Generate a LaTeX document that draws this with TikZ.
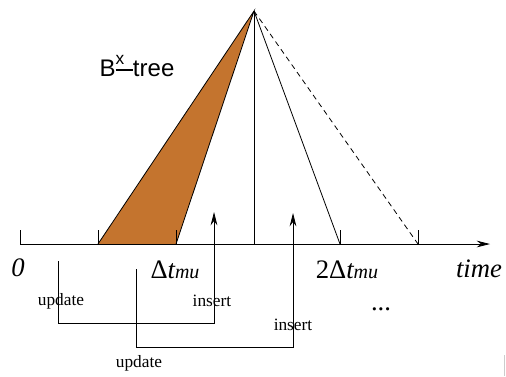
\documentclass[tikz,border=0pt]{standalone}
\usepackage{fontspec}
\setmainfont{Liberation Serif}
\newfontfamily\treefont{Liberation Sans}
\usetikzlibrary{arrows.meta}
\usepackage{xcolor}
\definecolor{treefill}{RGB}{196,116,46}
\newcommand\dtmu{\textup{Δ}\textit{t}{\fontsize{15}{15}\selectfont\itshape mu}}

\begin{document}
\begin{tikzpicture}[x=0.75pt, y=-0.75pt,
    edge/.style={line width=0.6pt},
    axis/.style={-{Stealth[length=10pt,width=5pt]}, line width=0.6pt},
    flow/.style={-{Stealth[length=10pt,width=5pt]}, line width=0.6pt},
    big/.style={font=\fontsize{20}{24}\selectfont\itshape, inner sep=0pt},
    small/.style={font=\fontsize{13}{15}\selectfont, inner sep=0pt},
    treelabel/.style={font=\treefont\fontsize{18}{22}\selectfont, inner sep=0pt}
  ]
  \useasboundingbox (0,0) rectangle (506,376);
  \coordinate (apex) at (254,11);
  \coordinate (t0) at (20,244);
  \coordinate (t1) at (98,244);
  \coordinate (t2) at (176,244);
  \coordinate (t3) at (254,244);
  \coordinate (t4) at (340,244);
  \coordinate (t5) at (418,244);
  \coordinate (tend) at (490,244);

  % the tree
  \fill[treefill] (t1) -- (apex) -- (t2) -- cycle;
  \draw[edge] (t1) -- (apex) -- (t2);
  \draw[edge] (apex) -- (t3);
  \draw[edge] (apex) -- (t4);
  \draw[edge, dash pattern=on 4pt off 3pt] (apex) -- (t5);

  % time axis
  \draw[axis] (t0) -- (tend);
  \foreach \t in {t0,t1,t2,t3,t4,t5}
    \draw[edge] (\t) -- ++(0,-14);

  \node[treelabel] (title) at (137,66) {B\rlap{\raisebox{9pt}{\fontsize{13}{13}\selectfont x}}\rule[4pt]{13pt}{1.8pt}tree};

  \node[big] (zero) at (18,268) {0};
  \node[big] (dt) at (175,270) {\dtmu};
  \node[big] (dt2) at (347,270) {\textup{2}\dtmu};
  \node[big] (time) at (479,269) {time};

  % updates and inserts
  \coordinate (u1) at (58,261);
  \coordinate (i1) at (214,212);
  \coordinate (u2) at (136,269);
  \coordinate (i2) at (293,213);
  \draw[flow] (u1) -- ++(0,62) -| (i1);
  \draw[flow] (u2) -- ++(0,78) -| (i2);

  \node[small] (up1) at (61,301) {update};
  \node[small] (in1) at (212,301) {insert};
  \node[small] (in2) at (293,325) {insert};
  \node[small] (up2) at (139,363) {update};
  \node[font=\fontsize{20}{24}\selectfont, inner sep=0pt] (dots) at (381,309) {...};

  \draw[gray!40] (504,355) -- (504,376);
\end{tikzpicture}
\end{document}
